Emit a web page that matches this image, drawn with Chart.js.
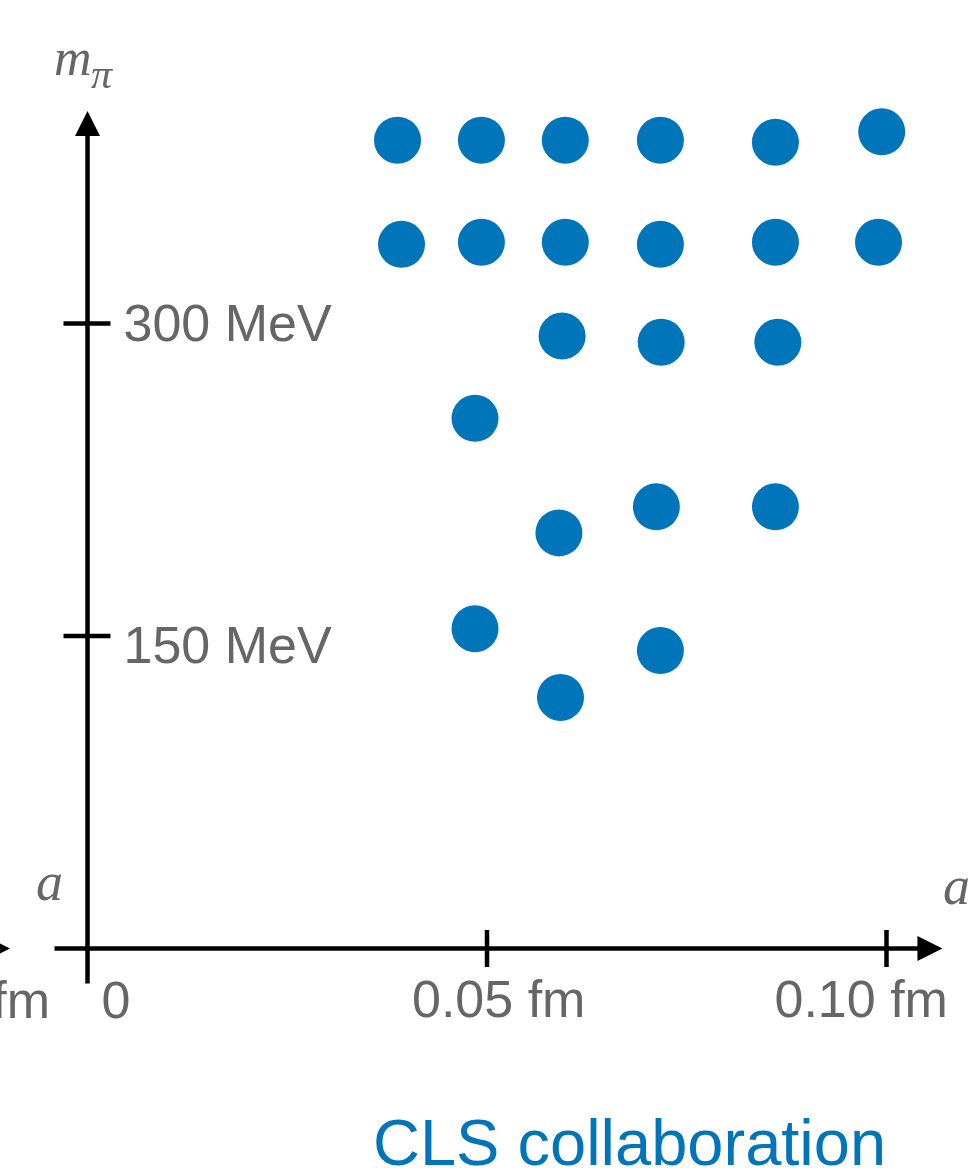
<!DOCTYPE html>
<html>
<head>
<meta charset="utf-8">
<title>CLS ensembles</title>
<script src="https://cdn.jsdelivr.net/npm/chart.js@4/dist/chart.umd.min.js"></script>
<style>
  html, body { margin: 0; padding: 0; background: #fff; }
  #wrap { width: 973px; height: 1168px; position: relative; }
</style>
</head>
<body>
<div id="wrap"><canvas id="c" width="973" height="1168"></canvas></div>
<script>
// Lattice spacing a (fm) and pion mass m_pi (MeV) of each ensemble
const latticeSpacing = [
  0.0388, 0.0493, 0.0598, 0.0717, 0.0861, 0.0994,
  0.0393, 0.0493, 0.0598, 0.0717, 0.0861, 0.0990,
  0.0594, 0.0718, 0.0864,
  0.0485,
  0.0590, 0.0712, 0.0861,
  0.0485, 0.0717, 0.0592
];
const pionMass = [
  388, 388, 388, 388, 387, 392,
  338, 339, 339, 338, 339, 339,
  294, 291, 291,
  254.5,
  199.5, 212, 212,
  153.5, 143, 120.5
];

// Axis ticks
const aTickValues = [0.05, 0.10];
const aTickLabels = ['0.05 fm', '0.10 fm'];
const mTickValues = [150, 300];
const mTickLabels = ['150 MeV', '300 MeV'];

// Where the axis arrows end
const aAxisEnd = 0.107;
const mAxisEnd = 402;

const BLUE = '#0075B9';
const GREY = '#666666';
const SANS = '"Liberation Sans", Arial, Helvetica, sans-serif';
const SERIF = '"Liberation Serif", "Times New Roman", serif';

const points = latticeSpacing.map((a, i) => ({ x: a, y: pionMass[i] }));

function tri(ctx, p1, p2, p3) {
  ctx.beginPath();
  ctx.moveTo(p1[0], p1[1]);
  ctx.lineTo(p2[0], p2[1]);
  ctx.lineTo(p3[0], p3[1]);
  ctx.closePath();
  ctx.fill();
}

const schematicAxes = {
  id: 'schematicAxes',
  beforeDatasetsDraw(chart) {
    const { ctx, scales: { x, y } } = chart;
    const x0 = x.getPixelForValue(0);
    const y0 = y.getPixelForValue(0);
    const xEnd = x.getPixelForValue(aAxisEnd);
    const yEnd = y.getPixelForValue(mAxisEnd);
    const head = 25, half = 12.5;

    ctx.save();
    ctx.strokeStyle = '#000';
    ctx.fillStyle = '#000';
    ctx.lineWidth = 4.5;
    ctx.lineCap = 'butt';

    // horizontal axis with arrow
    ctx.beginPath();
    ctx.moveTo(x0 - 33, y0);
    ctx.lineTo(xEnd - head + 1, y0);
    ctx.stroke();
    tri(ctx, [xEnd, y0], [xEnd - head, y0 - half], [xEnd - head, y0 + half]);

    // arrow tip of the neighbouring panel's axis
    tri(ctx, [10, y0], [10 - head, y0 - half], [10 - head, y0 + half]);

    // vertical axis with arrow
    ctx.beginPath();
    ctx.moveTo(x0, y0 + 35);
    ctx.lineTo(x0, yEnd + head - 1);
    ctx.stroke();
    tri(ctx, [x0, yEnd], [x0 - half, yEnd + head], [x0 + half, yEnd + head]);

    // tick marks
    aTickValues.forEach(v => {
      const px = x.getPixelForValue(v);
      ctx.beginPath();
      ctx.moveTo(px, y0 - 18.5);
      ctx.lineTo(px, y0 + 18.5);
      ctx.stroke();
    });
    mTickValues.forEach(v => {
      const py = y.getPixelForValue(v);
      ctx.beginPath();
      ctx.moveTo(x0 - 24, py);
      ctx.lineTo(x0 + 23, py);
      ctx.stroke();
    });
    ctx.restore();
  },
  afterDraw(chart) {
    const { ctx, scales: { x, y } } = chart;
    const x0 = x.getPixelForValue(0);
    const y0 = y.getPixelForValue(0);
    ctx.save();
    ctx.fillStyle = GREY;
    ctx.textBaseline = 'alphabetic';

    // tick labels
    ctx.font = `52px ${SANS}`;
    ctx.textAlign = 'left';
    const aLabelShift = [-75, -112];
    aTickValues.forEach((v, i) => {
      ctx.fillText(aTickLabels[i], x.getPixelForValue(v) + aLabelShift[i], y0 + 68);
    });
    ctx.fillText('0', x0 + 14, y0 + 69);
    ctx.textAlign = 'right';
    ctx.fillText('fm', 50, y0 + 69);
    ctx.textAlign = 'left';
    const mLabelShift = [27, 17];
    mTickValues.forEach((v, i) => {
      ctx.fillText(mTickLabels[i], x0 + 36, y.getPixelForValue(v) + mLabelShift[i]);
    });

    // axis symbols
    ctx.font = `italic 52px ${SERIF}`;
    ctx.fillText('m', 54, 75);
    ctx.font = `italic 42px ${SERIF}`;
    ctx.fillText('π', 91, 88);
    ctx.font = `italic 54px ${SERIF}`;
    ctx.fillText('a', 36, y0 - 49);
    ctx.fillText('a', 943, y0 - 45);

    // caption
    ctx.fillStyle = BLUE;
    ctx.font = `65px ${SANS}`;
    ctx.textAlign = 'left';
    ctx.fillText('CLS collaboration', 373, 1165);
    ctx.restore();
  }
};

new Chart(document.getElementById('c'), {
  type: 'scatter',
  data: {
    datasets: [{
      data: points,
      backgroundColor: BLUE,
      borderWidth: 0,
      pointRadius: 23.5,
      pointHoverRadius: 23.5,
      clip: false
    }]
  },
  options: {
    responsive: false,
    devicePixelRatio: 1,
    animation: false,
    events: [],
    layout: { padding: 0, autoPadding: false },
    plugins: { legend: { display: false }, tooltip: { enabled: false } },
    scales: {
      x: { type: 'linear', display: false, min: -0.010951, max: 0.110826 },
      y: { type: 'linear', display: false, min: -105.36, max: 455.28 }
    }
  },
  plugins: [schematicAxes]
});
</script>
</body>
</html>
